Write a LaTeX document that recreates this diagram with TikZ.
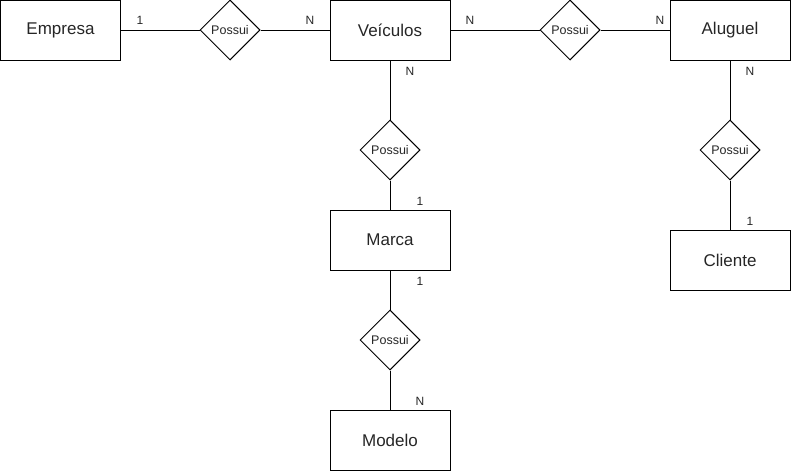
\documentclass[tikz,border=0pt]{standalone}
\usepackage{fontspec}
\setmainfont{Liberation Sans}
\usetikzlibrary{shapes.geometric, positioning}
\tikzset{
    entidade/.style={draw, rectangle, minimum width=120pt, minimum height=60pt, inner sep=0pt, align=center, draw=black, line width=1pt, text=black!85, font=\fontsize{17}{20}\selectfont},
    relacao/.style={draw, diamond, aspect=1, minimum width=60pt, minimum height=60pt, inner sep=0pt, align=center, draw=black, line width=1pt, text=black!85, font=\fontsize{12.5}{14}\selectfont},
    card/.style={inner sep=0pt, text=black!85, font=\fontsize{12}{14}\selectfont},
    ligacao/.style={line width=1pt, draw=black}
}
\begin{document}
\begin{tikzpicture}[x=1pt, y=-1pt]
        \useasboundingbox (0,0) rectangle (791,471);

        % -----------------------------------------------------------------
        % ENTIDADES
        % -----------------------------------------------------------------
        \node[entidade] (empresa) at (60.5, 30) {Empresa};
        \node[entidade] (veiculos) at (390, 30) {Veículos};
        \node[entidade] (aluguel) at (730, 30) {Aluguel};
        \node[entidade] (marca) at (390, 240) {Marca};
        \node[entidade] (cliente) at (730, 260) {Cliente};
        \node[entidade] (modelo) at (390, 440) {Modelo};

        % -----------------------------------------------------------------
        % RELACIONAMENTOS
        % -----------------------------------------------------------------
        \node[relacao] (possuiEV) at (230, 30) {Possui};
        \node[relacao] (possuiVA) at (570, 30) {Possui};
        \node[relacao] (possuiVM) at (390, 150) {Possui};
        \node[relacao] (possuiAC) at (730, 150) {Possui};
        \node[relacao] (possuiMM) at (390, 340) {Possui};

        % Ligacoes
        \draw[ligacao] (empresa) -- (possuiEV) -- (veiculos);
        \draw[ligacao] (veiculos) -- (possuiVA) -- (aluguel);
        \draw[ligacao] (veiculos) -- (possuiVM) -- (marca);
        \draw[ligacao] (marca) -- (possuiMM) -- (modelo);
        \draw[ligacao] (aluguel) -- (possuiAC) -- (cliente);

        % -----------------------------------------------------------------
        % CARDINALIDADES
        % -----------------------------------------------------------------
        \node[card] (c1) at (140, 20) {1};
        \node[card] (c2) at (310, 20) {N};
        \node[card] (c3) at (470, 20) {N};
        \node[card] (c4) at (660, 20) {N};
        \node[card] (c5) at (410, 71) {N};
        \node[card] (c6) at (420, 201) {1};
        \node[card] (c7) at (420, 281) {1};
        \node[card] (c8) at (420, 401) {N};
        \node[card] (c9) at (750, 71) {N};
        \node[card] (c10) at (750, 221) {1};

    \end{tikzpicture}
\end{document}
